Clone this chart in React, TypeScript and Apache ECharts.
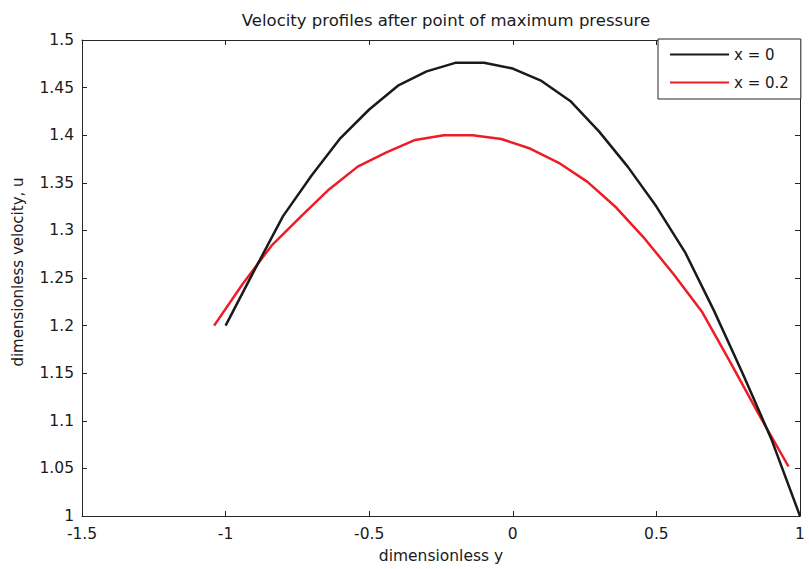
import React, { useEffect, useRef } from "react";
import * as echarts from "echarts";

const xBlack = [-1, -0.9, -0.8, -0.7, -0.6, -0.5, -0.4, -0.3, -0.2, -0.1, 0, 0.1, 0.2, 0.3, 0.4, 0.5, 0.6, 0.7, 0.8, 0.9, 1];
const uBlack = [1.2, 1.258, 1.315, 1.358, 1.397, 1.427, 1.452, 1.467, 1.476, 1.476, 1.47, 1.457, 1.436, 1.404, 1.367, 1.325, 1.277, 1.216, 1.15, 1.081, 1.0];

const xRed = [-1.04, -0.94, -0.84, -0.74, -0.64, -0.54, -0.44, -0.34, -0.24, -0.14, -0.04, 0.06, 0.16, 0.26, 0.36, 0.46, 0.56, 0.66, 0.76, 0.86, 0.96];
const uRed = [1.2, 1.244, 1.284, 1.314, 1.343, 1.367, 1.382, 1.395, 1.4, 1.4, 1.396, 1.386, 1.371, 1.351, 1.324, 1.291, 1.254, 1.214, 1.16, 1.105, 1.052];

const seriesNames = ["x = 0", "x = 0.2"];
const titleText = "Velocity profiles after point of maximum pressure";
const xName = "dimensionless y";
const yName = "dimensionless velocity, u";

const FONT = "'DejaVu Sans', 'Liberation Sans', Arial, sans-serif";
const AXIS_COLOR = "#262626";
const TEXT_COLOR = "#1a1a1a";

export default function App() {
  const ref = useRef<HTMLDivElement>(null);
  useEffect(() => {
    if (!ref.current) return;
    const chart = echarts.init(ref.current, undefined, { renderer: "svg" });
    const axisLine = { show: true, onZero: false, lineStyle: { color: AXIS_COLOR, width: 1 } };
    const axisTick = { show: true, inside: true, length: 5, lineStyle: { color: AXIS_COLOR, width: 1 } };
    const labelStyle = { fontFamily: FONT, fontSize: 15.5, color: TEXT_COLOR };
    chart.setOption({
      animation: false,
      backgroundColor: "#ffffff",
      textStyle: { fontFamily: FONT },
      title: {
        text: titleText,
        left: 441,
        top: 7,
        textAlign: "center",
        textStyle: { fontFamily: FONT, fontSize: 16.5, fontWeight: "normal", color: TEXT_COLOR },
      },
      grid: { left: 82, right: 9, top: 40, bottom: 51.5, containLabel: false },
      legend: {
        data: seriesNames,
        orient: "vertical",
        left: 658,
        top: 39,
        itemWidth: 59,
        itemHeight: 14,
        itemGap: 13,
        padding: [8, 12, 9, 11],
        backgroundColor: "#ffffff",
        borderColor: AXIS_COLOR,
        borderWidth: 1,
        borderRadius: 0,
        itemStyle: { opacity: 0, borderWidth: 0 },
        textStyle: { fontFamily: FONT, fontSize: 15, color: TEXT_COLOR },
      },
      xAxis: [
        {
          type: "value",
          min: -1.5,
          max: 1,
          interval: 0.5,
          position: "bottom",
          name: xName,
          nameLocation: "middle",
          nameGap: 32,
          nameTextStyle: { fontFamily: FONT, fontSize: 15.5, color: TEXT_COLOR },
          axisLine,
          axisTick,
          axisLabel: { ...labelStyle, margin: 10 },
          splitLine: { show: false },
        },
        {
          type: "value",
          min: -1.5,
          max: 1,
          interval: 0.5,
          position: "top",
          axisLine,
          axisTick,
          axisLabel: { show: false },
          splitLine: { show: false },
        },
      ],
      yAxis: [
        {
          type: "value",
          min: 1,
          max: 1.5,
          interval: 0.05,
          position: "left",
          name: yName,
          nameLocation: "middle",
          nameGap: 57,
          nameTextStyle: { fontFamily: FONT, fontSize: 15, color: TEXT_COLOR, padding: [0, 0, 0, 12] },
          axisLine,
          axisTick,
          axisLabel: { ...labelStyle, margin: 8 },
          splitLine: { show: false },
        },
        {
          type: "value",
          min: 1,
          max: 1.5,
          interval: 0.05,
          position: "right",
          axisLine,
          axisTick,
          axisLabel: { show: false },
          splitLine: { show: false },
        },
      ],
      series: [
        {
          name: seriesNames[0],
          type: "line",
          xAxisIndex: 0,
          yAxisIndex: 0,
          symbol: "none",
          lineStyle: { color: TEXT_COLOR, width: 2.5 },
          itemStyle: { color: TEXT_COLOR },
          data: xBlack.map((x, i) => [x, uBlack[i]]),
          z: 3,
        },
        {
          name: seriesNames[1],
          type: "line",
          xAxisIndex: 0,
          yAxisIndex: 0,
          symbol: "none",
          lineStyle: { color: "#ee1c25", width: 2.5 },
          itemStyle: { color: "#ee1c25" },
          data: xRed.map((x, i) => [x, uRed[i]]),
          z: 2,
        },
      ],
    });
    return () => chart.dispose();
  }, []);
  return <div ref={ref} style={{ width: 809, height: 569, position: "absolute", left: 0, top: 0 }} />;
}
